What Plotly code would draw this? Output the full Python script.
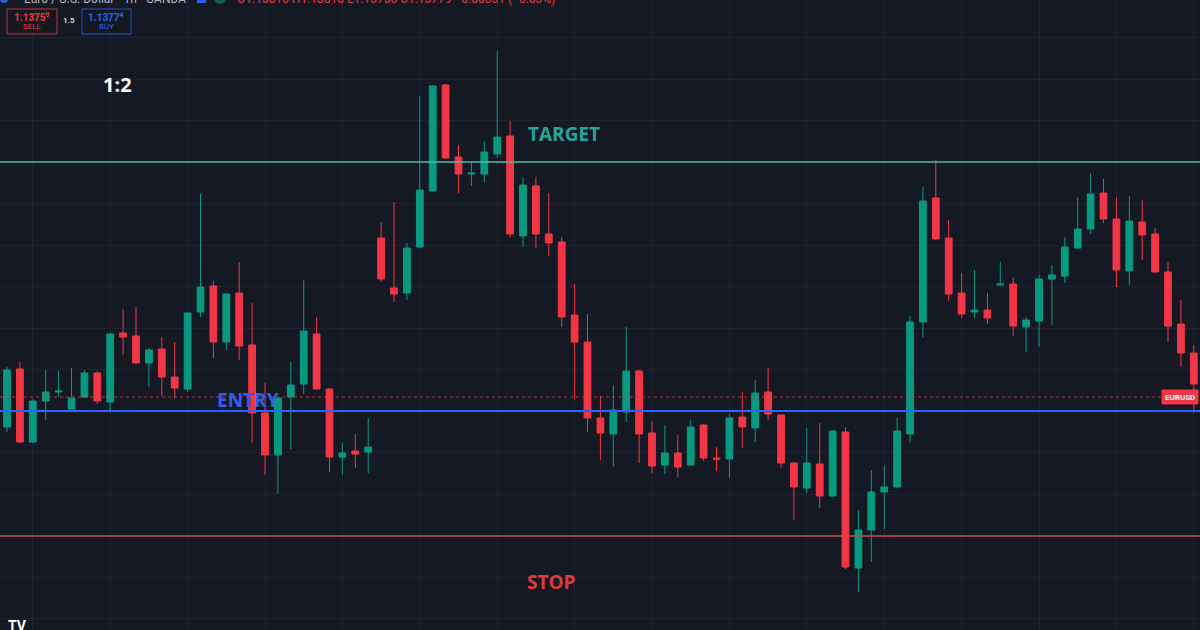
import plotly.graph_objects as go

# ---- data (EUR/USD 1h candles) ----
idx = list(range(93))
open_ = [1.13736,1.13794,1.13721,1.13762,1.13771,1.13754,1.13766,1.13790,1.13761,1.13830,
         1.13827,1.13800,1.13814,1.13786,1.13774,1.13851,1.13877,1.13821,1.13870,1.13818,
         1.13750,1.13708,1.13766,1.13779,1.13829,1.13774,1.13706,1.13712,1.13711,1.13925,
         1.13875,1.13870,1.13916,1.13972,1.14078,1.14006,1.13989,1.13989,1.14009,1.14027,
         1.13927,1.13977,1.13929,1.13921,1.13848,1.13821,1.13745,1.13729,1.13751,1.13792,
         1.13730,1.13698,1.13710,1.13698,1.13738,1.13705,1.13704,1.13746,1.13735,1.13771,
         1.13748,1.13700,1.13675,1.13699,1.13667,1.13731,1.13595,1.13633,1.13671,1.13676,
         1.13729,1.13841,1.13965,1.13925,1.13870,1.13851,1.13853,1.13878,1.13879,1.13836,
         1.13842,1.13884,1.13887,1.13915,1.13934,1.13970,1.13944,1.13892,1.13941,1.13929,
         1.13891,1.13839,1.13810]
high = [1.13796,1.13801,1.13764,1.13793,1.13792,1.13795,1.13793,1.13792,1.13830,1.13854,
        1.13856,1.13815,1.13826,1.13821,1.13851,1.13969,1.13882,1.13870,1.13901,1.13860,
        1.13780,1.13766,1.13801,1.13883,1.13846,1.13775,1.13720,1.13729,1.13745,1.13941,
        1.13961,1.13920,1.14067,1.14078,1.14079,1.14018,1.14002,1.14022,1.14112,1.14042,
        1.13986,1.13986,1.13970,1.13926,1.13879,1.13849,1.13767,1.13778,1.13836,1.13793,
        1.13742,1.13738,1.13728,1.13743,1.13739,1.13716,1.13749,1.13771,1.13783,1.13795,
        1.13749,1.13701,1.13735,1.13740,1.13733,1.13736,1.13653,1.13693,1.13697,1.13745,
        1.13847,1.13976,1.14003,1.13943,1.13890,1.13893,1.13870,1.13901,1.13886,1.13846,
        1.13888,1.13898,1.13926,1.13966,1.13990,1.13984,1.13966,1.13967,1.13963,1.13935,
        1.13901,1.13863,1.13818]
low = [1.13731,1.13720,1.13720,1.13743,1.13766,1.13754,1.13765,1.13759,1.13753,1.13808,
       1.13799,1.13776,1.13767,1.13765,1.13771,1.13846,1.13805,1.13813,1.13803,1.13720,
       1.13688,1.13669,1.13714,1.13769,1.13774,1.13691,1.13689,1.13695,1.13690,1.13881,
       1.13861,1.13863,1.13915,1.13972,1.14005,1.13970,1.13977,1.13981,1.14005,1.13926,
       1.13916,1.13915,1.13907,1.13836,1.13764,1.13731,1.13703,1.13696,1.13741,1.13700,
       1.13690,1.13689,1.13686,1.13697,1.13702,1.13692,1.13685,1.13715,1.13721,1.13743,
       1.13695,1.13643,1.13670,1.13655,1.13666,1.13594,1.13571,1.13601,1.13634,1.13675,
       1.13720,1.13826,1.13923,1.13862,1.13845,1.13845,1.13839,1.13878,1.13827,1.13811,
       1.13816,1.13838,1.13880,1.13914,1.13929,1.13940,1.13876,1.13878,1.13903,1.13891,
       1.13821,1.13796,1.13750]
close = [1.13793,1.13721,1.13762,1.13771,1.13772,1.13765,1.13790,1.13762,1.13829,1.13826,
         1.13800,1.13813,1.13786,1.13775,1.13850,1.13876,1.13821,1.13869,1.13817,1.13750,
         1.13708,1.13765,1.13778,1.13832,1.13774,1.13706,1.13710,1.13709,1.13716,1.13884,
         1.13869,1.13915,1.13973,1.14077,1.14005,1.13989,1.13990,1.14011,1.14026,1.13929,
         1.13978,1.13929,1.13920,1.13846,1.13821,1.13745,1.13730,1.13753,1.13792,1.13729,
         1.13697,1.13710,1.13696,1.13736,1.13705,1.13704,1.13745,1.13736,1.13770,1.13749,
         1.13700,1.13676,1.13700,1.13667,1.13732,1.13596,1.13633,1.13671,1.13676,1.13732,
         1.13841,1.13962,1.13924,1.13869,1.13849,1.13853,1.13845,1.13879,1.13837,1.13843,
         1.13884,1.13888,1.13916,1.13934,1.13969,1.13944,1.13893,1.13942,1.13928,1.13891,
         1.13837,1.13810,1.13779]

target_price = 1.14001
entry_price = 1.13752
stop_price = 1.13627
last_price = 1.13766
sell_price = "1.1375<sup>9</sup>"
buy_price = "1.1377<sup>4</sup>"
spread = "1.5"
ratio_label = "1:2"
header_symbol = "Euro / U.S. Dollar · 1h · OANDA"
header_ohlc = "O1.13810 H1.13818 L1.13750 C1.13779 −0.00031 (−0.03%)"

# ---- styles ----
W, H = 1200, 630
BG = "#151924"
GRID = "#1f2330"
UP = "#089981"
DOWN = "#F23645"

def px(x):
    return x / W

def py(y):
    return 1 - y / H

fig = go.Figure()
fig.add_trace(go.Candlestick(
    x=idx, open=open_, high=high, low=low, close=close,
    increasing=dict(line=dict(color=UP, width=1), fillcolor=UP),
    decreasing=dict(line=dict(color=DOWN, width=1), fillcolor=DOWN),
    whiskerwidth=0, showlegend=False, hoverinfo="skip",
))

# horizontal levels
fig.add_hline(y=last_price, line=dict(color="rgba(242,54,69,0.75)", width=1, dash="dot"))
fig.add_hline(y=target_price, line=dict(color="#4fb8a8", width=1.5))
fig.add_hline(y=entry_price, line=dict(color="#2962FF", width=2))
fig.add_hline(y=stop_price, line=dict(color="#c9474a", width=1.5))

def box(x0, y0, x1, y1, line_color, fill):
    fig.add_shape(type="rect", xref="paper", yref="paper",
                  x0=px(x0), x1=px(x1), y0=py(y1), y1=py(y0),
                  line=dict(color=line_color, width=1), fillcolor=fill, layer="above")

box(7, 9, 57, 34, "#b23440", "#16181f")
box(82, 9, 131, 34, "#2a4fc4", "#16181f")
box(1162, 390, 1198, 404, DOWN, DOWN)
# header icons
fig.add_shape(type="rect", xref="paper", yref="paper", x0=px(197), x1=px(206), y0=py(3), y1=py(-6),
              fillcolor="#2962FF", line=dict(width=0))
fig.add_shape(type="circle", xref="paper", yref="paper", x0=px(214), x1=px(226), y0=py(4), y1=py(-8),
              fillcolor="#0f5f52", line=dict(width=0))
fig.add_shape(type="circle", xref="paper", yref="paper", x0=px(0), x1=px(8), y0=py(3), y1=py(-5),
              fillcolor="#2a5fd0", line=dict(width=0))

def ann(x, y, text, size, color, weight="normal", family="Open Sans, sans-serif", xanchor="center"):
    fig.add_annotation(x=px(x), y=py(y), xref="paper", yref="paper", text=text, showarrow=False,
                       xanchor=xanchor, yanchor="middle",
                       font=dict(size=size, color=color, family=family, weight=weight))

ann(117, 85, ratio_label, 20, "#ffffff", "bold")
ann(564, 134, "TARGET", 19, "#26a69a", "bold")
ann(248, 400, "ENTRY", 19, "#2f5ff0", "bold")
ann(551, 582, "STOP", 19, "#e0393c", "bold")
ann(1180, 397, "EURUSD", 8, "#ffffff", "bold", "Roboto, sans-serif")
ann(32, 17, sell_price, 10, "#f23645", "bold", "Roboto, sans-serif")
ann(32, 27, "SELL", 8, "#f23645", "normal", "Roboto, sans-serif")
ann(69, 21, spread, 8, "#d1d4dc", "bold", "Roboto, sans-serif")
ann(106, 17, buy_price, 10, "#2962FF", "bold", "Roboto, sans-serif")
ann(106, 27, "BUY", 8, "#2962FF", "normal", "Roboto, sans-serif")
ann(22, -1, header_symbol, 12, "#b2b5be", "normal", "Roboto, sans-serif", "left")
ann(235, -1, header_ohlc, 12, "#f23645", "normal", "Roboto, sans-serif", "left")
ann(6, 626, "<b>TV</b>", 14, "#ffffff", "bold", "Roboto, sans-serif", "left")

fig.update_layout(
    width=W, height=H,
    margin=dict(l=0, r=0, t=0, b=0),
    paper_bgcolor=BG, plot_bgcolor=BG,
    showlegend=False,
    boxgap=0.25,
    xaxis=dict(range=[-0.543, 92.48], showticklabels=False, showgrid=True, gridcolor=GRID,
               gridwidth=1, tick0=2, dtick=6, zeroline=False, showline=False,
               rangeslider=dict(visible=False), fixedrange=True),
    yaxis=dict(range=[1.13533, 1.14163], showticklabels=False, showgrid=True, gridcolor=GRID,
               gridwidth=1, tick0=entry_price, dtick=0.000415, zeroline=False, showline=False,
               fixedrange=True),
)

fig.write_html("out.html", config={"displayModeBar": False})
